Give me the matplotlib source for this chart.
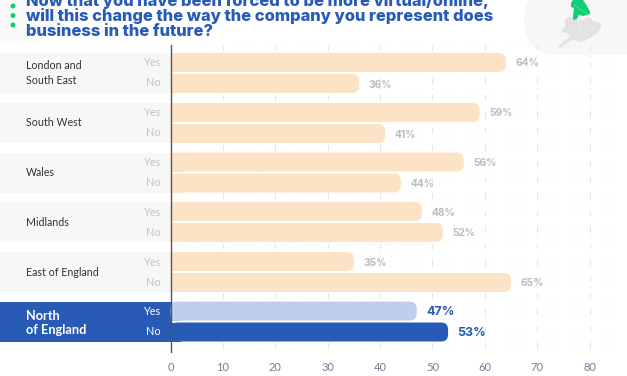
import matplotlib
matplotlib.use('Agg')
import matplotlib.pyplot as plt
from matplotlib.patches import FancyBboxPatch, Rectangle, Polygon, Ellipse

regions = ['London and\nSouth East', 'South West', 'Wales', 'Midlands', 'East of England', 'North\nof England']
yes_vals = [64, 59, 56, 48, 35, 47]
no_vals = [36, 41, 44, 52, 65, 53]
x_ticks = [0, 10, 20, 30, 40, 50, 60, 70, 80]
title_lines = ['Now that you have been forced to be more virtual/online,',
               'will this change the way the company you represent does',
               'business in the future?']

W, H = 627, 376
PX = 5.2375   # px per one x unit
X0 = 170.5
row_y = [73, 123, 172.5, 222, 272, 321.5]  # centre of each group, px

BLUE = '#285BB5'
PEACH = '#FDE3C6'
LIGHT = '#BFCFEB'
GREY = '#BDBDBD'
GREEN = '#0ECF73'

fig = plt.figure(figsize=(W / 100, H / 100), dpi=100)
ax = fig.add_axes([0, 0, 1, 1])
ax.set_xlim(-X0 / PX, (W - X0) / PX)
ax.set_ylim(H, 0)
ax.axis('off')


def px(x):
    return (x - X0) / PX


def bar(val, yc, color):
    p = FancyBboxPatch((0, yc - 9.5), val, 19, boxstyle='round,pad=0,rounding_size=%f' % (7 / PX),
                       mutation_aspect=PX, fc=color, ec='none', zorder=3)
    ax.add_patch(p)
    ax.add_patch(Rectangle((0, yc - 9.5), 2, 19, fc=color, ec='none', zorder=3))


# pale blob behind the title, map corner
ax.add_patch(Ellipse((px(20), 5), 100 / PX, 76, fc='#FAFAF9', ec='none', zorder=1))
ax.add_patch(FancyBboxPatch((px(524), -15), 200, 70, boxstyle='round,pad=0,rounding_size=%f' % (35 / PX),
                            mutation_aspect=PX, fc='#F7F7F6', ec='none', zorder=1))
gb = [(565, 20), (568, 17), (573, 18), (582, 20), (590, 17), (593, 21), (601, 23), (601, 28), (597, 33),
      (590, 38), (582, 42), (573, 40), (568, 42), (560, 48), (558, 47), (563, 42), (570, 37), (567, 33),
      (561, 32), (565, 27)]
north = [(571, 3), (573, 0), (583, 0), (587, 6), (590, 12), (590, 14), (583, 16), (579, 15), (577, 19),
         (573, 20), (573, 17), (574, 8), (571, 7)]
ax.add_patch(Polygon([(px(a), b) for a, b in gb], fc='#E2E2E2', ec='none', zorder=2))
ax.add_patch(Polygon([(px(a), b) for a, b in north], fc=GREEN, ec='none', zorder=2))
for line in ([(577, 19), (580, 30), (582, 41)], [(568, 30), (580, 30), (590, 36)], [(583, 17), (590, 27), (597, 33)]):
    ax.plot([px(a) for a, b in line], [b for a, b in line], color='#EFEFEF', lw=0.4, zorder=2)
ax.plot([px(574), px(580), px(587)], [5, 9, 14], color='#7BE3AE', lw=0.4, zorder=2)

# faint grid: dashes at the ticks, square dot grid
for t in x_ticks[1:]:
    ax.plot([t, t], [45, 352], color='#E2E2E2', lw=0.7, ls=(0, (5.5, 11.5)), zorder=1)
for k in range(30):
    yy = 45.5 + k * 10.5
    ax.plot([2 * n for n in range(1, 43)], [yy] * 42, ls='none', marker='s', ms=0.9, mfc='#ECECEC', mec='none', zorder=1)

# bands and bars
for i in range(6):
    yc = row_y[i]
    last = i == 5
    ax.add_patch(Rectangle((px(-5), yc - 20), px(170.5) - px(-5), 40, fc=BLUE if last else '#F7F7F6', ec='none', zorder=2))
    bar(yes_vals[i], yc - 10.5, LIGHT if last else PEACH)
    bar(no_vals[i], yc + 10.5, BLUE if last else PEACH)
    ax.text(px(26), yc if not last else yc + 1.5, regions[i], ha='left', va='center', fontsize=7.7 if not last else 9.2,
            family='Lato', weight='bold' if last else 'normal', color='white' if last else '#333333',
            linespacing=1.4 if not last else 1.25, zorder=4)
    for lab, yy in (('Yes', yc - 10), ('No', yc + 10)):
        ax.text(px(161), yy, lab, ha='right', va='center', fontsize=7.8, family='Lato',
                color='white' if last else '#C4C4C4', zorder=4)
    for v, yy in ((yes_vals[i], yc - 9.5), (no_vals[i], yc + 11.5)):
        ax.text(v + 9.5 / PX, yy, '%d%%' % v, ha='left', va='center', family='Inter', weight='bold',
                fontsize=9 if last else 7.3, color=BLUE if last else GREY, zorder=4)

# zero line
ax.plot([0, 0], [45, 352], color='#555555', lw=1.0, zorder=5)

for t in x_ticks:
    ax.text(t, 367.5, str(t), ha='center', va='center', fontsize=8, family='Lato', color='#6E7F99')

title_base = [6, 21, 36.5]
for j in range(3):
    ax.add_patch(Ellipse((px(13), 6 + j * 9.5), 5 / PX, 5, fc=GREEN, ec='none', zorder=4))
    ax.text(px(26), title_base[j], title_lines[j], ha='left', va='baseline', family='Inter', weight='heavy',
            fontsize=11.9, color=BLUE, zorder=4)

fig.savefig('out.png', dpi=100)
